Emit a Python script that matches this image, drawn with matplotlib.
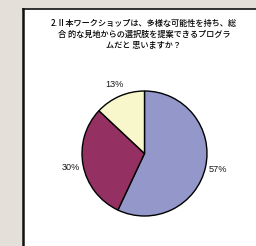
import matplotlib

matplotlib.use("Agg")
import matplotlib.pyplot as plt

plt.rcParams["font.family"] = ["Noto Sans CJK JP", "DejaVu Sans"]

title_lines = [
    "2.Ⅱ本ワークショップは、多様な可能性を持ち、総",
    "合 的な見地からの選択肢を提案できるプログラ",
    "ムだと 思いますか？",
]
shares = [57, 30, 13]
slice_colors = ["#9397C9", "#953062", "#F8F6CB"]

W, H = 256, 246
fig = plt.figure(figsize=(W / 100, H / 100), dpi=100)
fig.patch.set_facecolor("#E4E0D9")

# white panel, dark border on left and top
panel = fig.add_axes([23 / W, -0.01, 1.0, (H - 9) / H + 0.01], zorder=0)
panel.set_facecolor("white")
panel.set_xticks([])
panel.set_yticks([])
for side in ["right", "bottom"]:
    panel.spines[side].set_visible(False)
panel.spines["left"].set_linewidth(1.8)
panel.spines["top"].set_linewidth(1.2)
panel.spines["left"].set_color("#111111")
panel.spines["top"].set_color("#111111")

fig.text(144 / W, 1 - 19 / H, "\n".join(title_lines), ha="center", va="top",
         fontsize=5.9, linespacing=1.3, color="#000000", fontweight="medium", zorder=3)

cx, cy, r = 144.5, 153.5, 62.5
ax = fig.add_axes([(cx - r) / W, (H - cy - r) / H, 2 * r / W, 2 * r / H], zorder=2)
wedges, texts, autotexts = ax.pie(
    shares, colors=slice_colors, startangle=90, counterclock=False,
    autopct="%1.0f%%", pctdistance=1.2,
    wedgeprops=dict(edgecolor="black", linewidth=1.0),
    textprops=dict(fontsize=6.6, color="#1a1a1a", family=["Liberation Sans"]),
)
ax.set_xlim(-1, 1)
ax.set_ylim(-1, 1)
ax.axis("off")

fig.savefig("out.png", dpi=100, facecolor=fig.get_facecolor())
